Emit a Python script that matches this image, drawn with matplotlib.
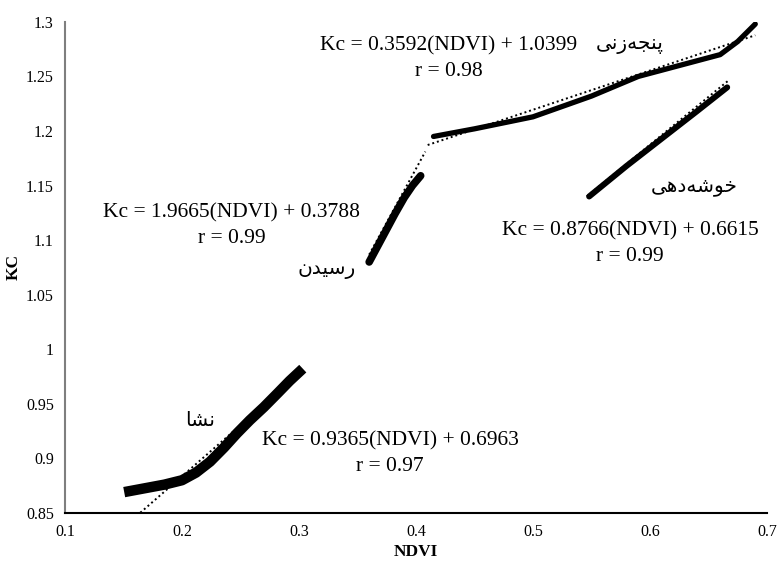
import matplotlib
matplotlib.use("Agg")
import matplotlib.pyplot as plt
import numpy as np

# ---- data ----
nesha_x = [0.155, 0.170, 0.185, 0.200, 0.212, 0.224, 0.236, 0.247, 0.258, 0.270, 0.282, 0.292, 0.300]
nesha_y = [0.870, 0.873, 0.876, 0.880, 0.887, 0.897, 0.910, 0.923, 0.935, 0.947, 0.960, 0.971, 0.979]

rasidan_x = [0.360, 0.366, 0.374, 0.382, 0.390, 0.397, 0.404]
rasidan_y = [1.080, 1.092, 1.108, 1.124, 1.139, 1.150, 1.159]

panje_x = [0.415, 0.450, 0.500, 0.550, 0.590, 0.625, 0.660, 0.675, 0.690]
panje_y = [1.195, 1.202, 1.213, 1.232, 1.250, 1.260, 1.270, 1.282, 1.298]

khoshe_x = [0.548, 0.580, 0.610, 0.640, 0.666]
khoshe_y = [1.140, 1.168, 1.193, 1.218, 1.240]

# trend lines: slope, intercept, x-range
trend_nesha = (0.9365, 0.6963, 0.155, 0.300)
trend_rasidan = (1.9665, 0.3788, 0.360, 0.408)
trend_panje = (0.3592, 1.0399, 0.410, 0.690)
trend_khoshe = (0.8766, 0.6615, 0.546, 0.668)

eq_texts = ["Kc = 0.3592(NDVI) + 1.0399\nr = 0.98",
            "Kc = 1.9665(NDVI) + 0.3788\nr = 0.99",
            "Kc = 0.8766(NDVI) + 0.6615\nr = 0.99",
            "Kc = 0.9365(NDVI) + 0.6963\nr = 0.97"]

# Stage names (Kurdish), written with Arabic presentation forms in visual order
label_panje = "\uFBFD\uFEE7\uFEAF\uFEEA\uFEA0\uFEE8\uFB58"   # پنجەزنی
label_khoshe = "\uFBFD\uFEEB\uFEA9\uFEEA\uFEB7\uFEEE\uFEA7"  # خوشەدهی
label_rasidan = "\uFEE5\uFEAA\uFBFF\uFEB3\uFEAD"            # رسیدن
label_nesha = "\uFE8E\uFEB8\uFEE7"                          # نشا

xticks = [0.1, 0.2, 0.3, 0.4, 0.5, 0.6, 0.7]
yticks = [0.85, 0.9, 0.95, 1, 1.05, 1.1, 1.15, 1.2, 1.25, 1.3]

serif = ["Liberation Serif", "DejaVu Serif"]

fig = plt.figure(figsize=(7.8, 5.61), dpi=100)
ax = fig.add_axes([0.0833, 0.0856, 0.9000, 0.8754])
ax.set_xlim(0.1, 0.7)
ax.set_ylim(0.85, 1.3)

# trend lines (dotted)
for m, b, x0, x1 in [trend_nesha, trend_rasidan, trend_panje, trend_khoshe]:
    xs = np.array([x0, x1])
    ax.plot(xs, m * xs + b, linestyle=(0, (1, 1.5)), color="black", lw=1.4, zorder=2)

# data curves (dense markers)
ax.plot(nesha_x, nesha_y, color="black", lw=7.5, solid_capstyle="projecting",
        solid_joinstyle="round", zorder=3)
ax.plot(rasidan_x, rasidan_y, color="black", lw=5.5, solid_capstyle="round",
        solid_joinstyle="round", zorder=3)
ax.plot(panje_x, panje_y, color="black", lw=3.8, solid_capstyle="round",
        solid_joinstyle="round", zorder=3)
ax.plot(khoshe_x, khoshe_y, color="black", lw=4.3, solid_capstyle="round",
        solid_joinstyle="round", zorder=3)

# equations
eq_pos = [(0.428, 1.2665), (0.2427, 1.113), (0.583, 1.0965), (0.3778, 0.9045)]
for (x, y), t in zip(eq_pos, eq_texts):
    ax.text(x, y, t, ha="center", va="center", fontsize=15.5, family=serif,
            linespacing=1.45)

# stage labels
arab = ["DejaVu Sans"]
kw = dict(ha="center", va="center", fontsize=14.5, family=arab)
ax.text(0.583, 1.279, label_panje, **kw)
ax.text(0.638, 1.149, label_khoshe, **kw)
ax.text(0.324, 1.0727, label_rasidan, **kw)
ax.text(0.2154, 0.9343, label_nesha, **kw)

ax.set_xticks(xticks)
ax.set_xticklabels([f"{v:g}" for v in xticks], family=serif, fontsize=11.5)
ax.set_yticks(yticks)
ax.set_yticklabels([f"{v:g}" for v in yticks], family=serif, fontsize=11.5)
ax.tick_params(length=0)
ax.tick_params(axis="x", pad=8)
ax.tick_params(axis="y", pad=8)

for s in ["top", "right"]:
    ax.spines[s].set_visible(False)
ax.spines["left"].set_color("#7f7f7f")
ax.spines["left"].set_linewidth(1.5)
ax.spines["bottom"].set_color("black")
ax.spines["bottom"].set_linewidth(1.5)

ax.set_xlabel("NDVI", family=serif, fontsize=12.5, fontweight="bold", labelpad=3)
ax.set_ylabel("KC", family=serif, fontsize=12.5, fontweight="bold", labelpad=3)

fig.savefig("out.png", dpi=100)
